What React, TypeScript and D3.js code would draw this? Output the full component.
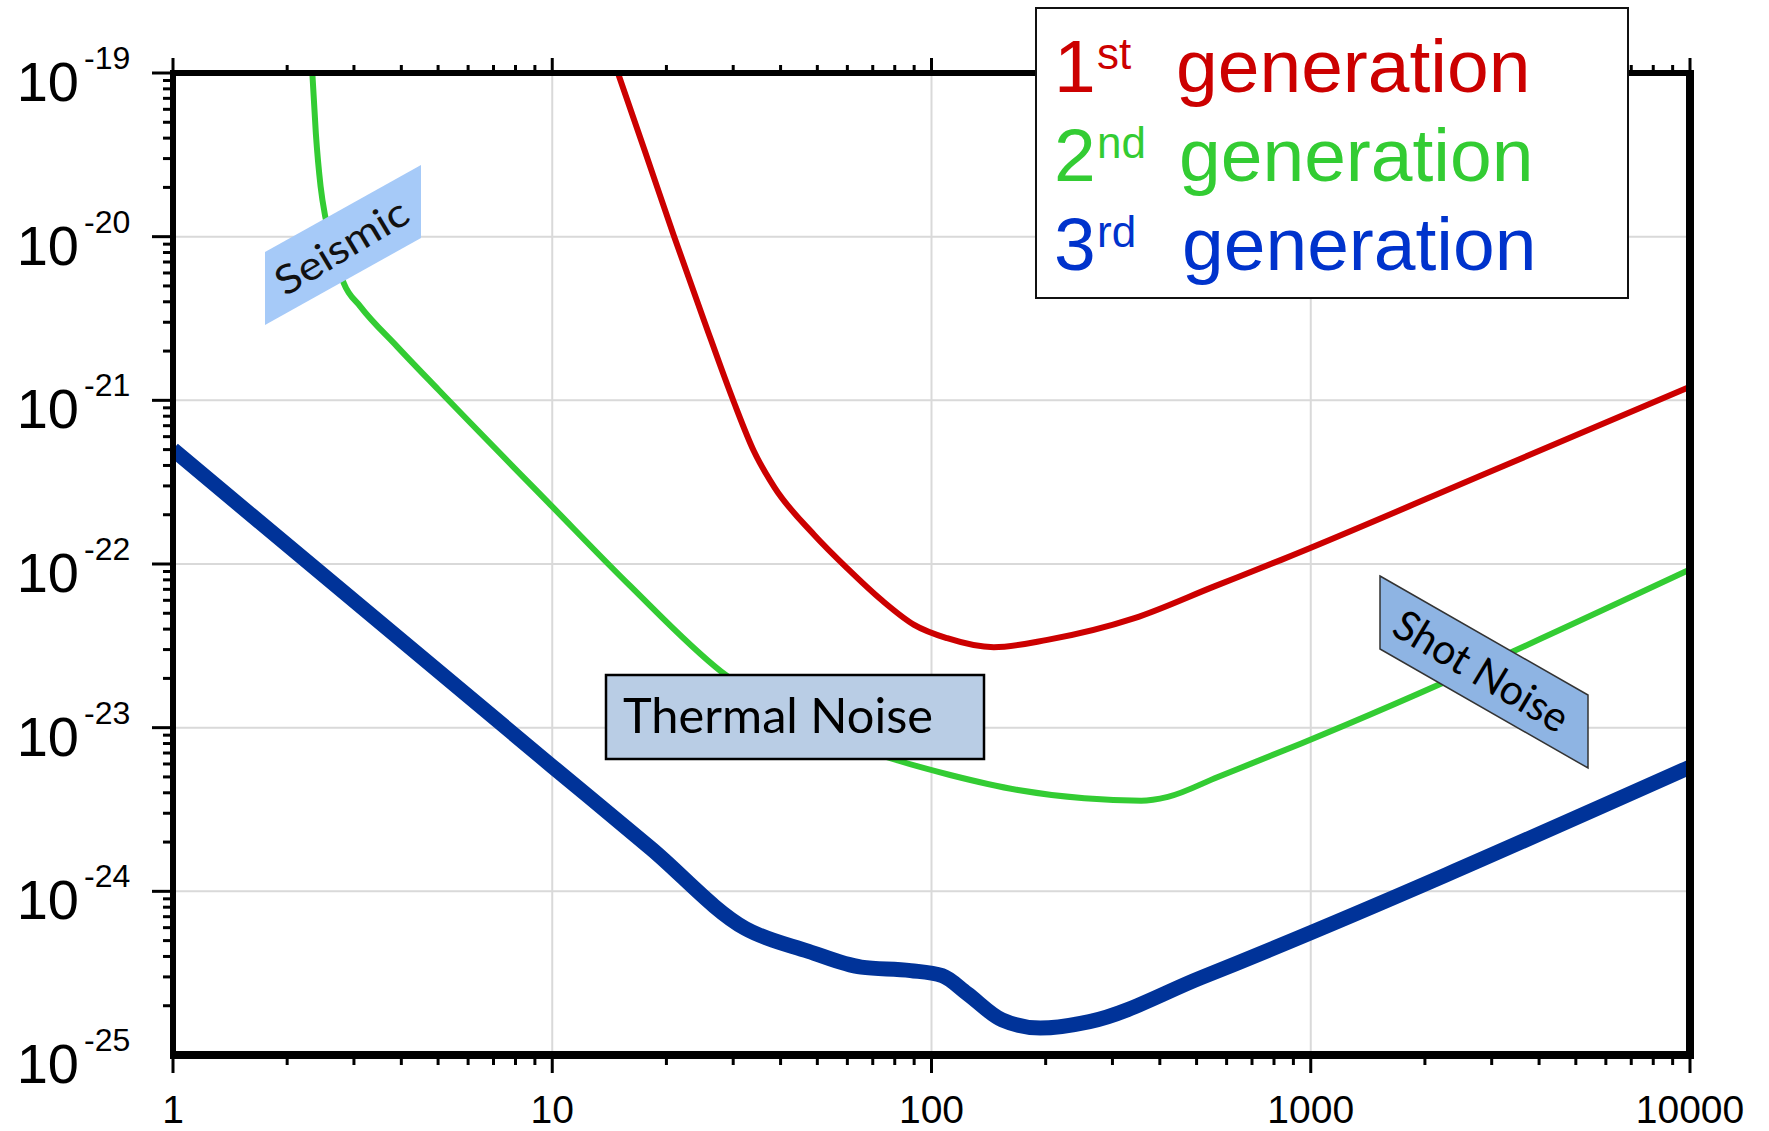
import React from 'react';
import * as d3 from 'd3';

const W = 1769;
const H = 1131;
const margin = { left: 173, right: 79, top: 73, bottom: 76 };

// axis labels
const xTickValues = [1, 10, 100, 1000, 10000];
const xTickLabels = ['1', '10', '100', '1000', '10000'];
const yTickValues = [1e-19, 1e-20, 1e-21, 1e-22, 1e-23, 1e-24, 1e-25];
const yTickExponents = ['-19', '-20', '-21', '-22', '-23', '-24', '-25'];

// 1st generation (red)
const gen1Freq = [14.9, 17.5, 20.9, 25.1, 30.1, 34, 38.5, 49, 60, 74, 90, 110, 146, 202, 343, 557, 836, 3000, 10000];
const gen1Strain = [1e-19, 3.4e-20, 1.02e-20, 3.1e-21, 9.8e-22, 4.9e-22, 2.95e-22, 1.51e-22, 9.4e-23, 6.0e-23, 4.25e-23, 3.52e-23, 3.1e-23, 3.44e-23, 4.67e-23, 7.3e-23, 1.06e-22, 3.7e-22, 1.21e-21];

// 2nd generation (green)
const gen2Freq = [2.33, 2.38, 2.45, 2.52, 2.63, 2.82, 3.12, 3.9, 5.01, 9.91, 16.0, 27.9, 39.8, 56.2, 81.5, 112, 169, 253, 357, 420, 569, 944, 10000];
const gen2Strain = [1e-19, 4.3e-20, 2.03e-20, 1.33e-20, 8.9e-21, 5.2e-21, 3.74e-21, 2.13e-21, 1.16e-21, 2.29e-22, 7.4e-23, 2.2e-23, 1.26e-23, 8.5e-24, 6.3e-24, 5.14e-24, 4.16e-24, 3.7e-24, 3.58e-24, 3.78e-24, 5.0e-24, 8.0e-24, 9.25e-23];

// 3rd generation (blue)
const gen3Freq = [1, 10, 18.2, 32.3, 47.4, 65.3, 88.1, 106.7, 124, 153.5, 193.6, 261, 514, 10000];
const gen3Strain = [5.0e-22, 5.8e-24, 1.83e-24, 5.93e-25, 4.3e-25, 3.44e-25, 3.28e-25, 3.05e-25, 2.38e-25, 1.64e-25, 1.46e-25, 1.6e-25, 2.97e-25, 5.75e-24];

const legendLabels = [
  { num: '1', sup: 'st', color: '#CC0000' },
  { num: '2', sup: 'nd', color: '#33CC33' },
  { num: '3', sup: 'rd', color: '#0033CC' },
];

const ARIAL = '"Liberation Sans", Arial, sans-serif';
const CALIBRI = 'Lato, "Open Sans", sans-serif';

export default function App() {
  const x = d3.scaleLog().domain([1, 10000]).range([margin.left, W - margin.right]);
  const y = d3.scaleLog().domain([1e-25, 1e-19]).range([H - margin.bottom, margin.top]);

  const line = d3
    .line<[number, number]>()
    .x((d) => x(d[0]))
    .y((d) => y(d[1]))
    .curve(d3.curveMonotoneX);

  const zip = (a: number[], b: number[]) => a.map((v, i) => [v, b[i]] as [number, number]);

  const isMajor = (v: number) => Math.abs(Math.log10(v) - Math.round(Math.log10(v))) < 1e-6;

  const x0 = x(1);
  const x1 = x(10000);
  const y0 = y(1e-19);
  const y1 = y(1e-25);

  const xTicks = x.ticks();
  const yTicks = y.ticks();

  return (
    <svg width={W} height={H} style={{ position: 'absolute', left: 0, top: 0, background: '#fff' }}>
      <defs>
        <clipPath id="plot">
          <rect x={x0} y={y0} width={x1 - x0} height={y1 - y0} />
        </clipPath>
      </defs>

      {/* grid */}
      <g stroke="#D9D9D9" strokeWidth={2}>
        {xTickValues.slice(1, -1).map((v) => (
          <line key={'gx' + v} x1={x(v)} x2={x(v)} y1={y0} y2={y1} />
        ))}
        {yTickValues.slice(1, -1).map((v) => (
          <line key={'gy' + v} x1={x0} x2={x1} y1={y(v)} y2={y(v)} />
        ))}
      </g>

      {/* curves */}
      <g clipPath="url(#plot)" fill="none" strokeLinejoin="round">
        <path d={line(zip(gen3Freq, gen3Strain)) || ''} stroke="#003399" strokeWidth={15} />
        <path d={line(zip(gen2Freq, gen2Strain)) || ''} stroke="#33CC33" strokeWidth={6} />
        <path d={line(zip(gen1Freq, gen1Strain)) || ''} stroke="#CC0000" strokeWidth={6} />
      </g>

      {/* frame */}
      <g stroke="#000" fill="none">
        <line x1={x0} x2={x1 + 4} y1={y0} y2={y0} strokeWidth={6} />
        <line x1={x0} x2={x0} y1={y0 - 3} y2={y1} strokeWidth={6} />
        <line x1={x0 - 3} x2={x1 + 4} y1={y1} y2={y1} strokeWidth={8} />
        <line x1={x1} x2={x1} y1={y0 - 3} y2={y1 + 4} strokeWidth={8} />
      </g>

      {/* ticks */}
      <g stroke="#000" strokeWidth={3}>
        {xTicks.map((v, i) => {
          const m = isMajor(v);
          return (
            <g key={'tx' + i}>
              <line x1={x(v)} x2={x(v)} y1={y1 + 4} y2={y1 + (m ? 18 : 10)} />
              <line x1={x(v)} x2={x(v)} y1={y0 - 3} y2={y0 - (m ? 15 : 8)} />
            </g>
          );
        })}
        {yTicks.map((v, i) => {
          const m = isMajor(v);
          return <line key={'ty' + i} x1={x0 - 3} x2={x0 - (m ? 21 : 10)} y1={y(v)} y2={y(v)} />;
        })}
      </g>

      {/* tick labels */}
      <g fontFamily={ARIAL} fill="#000">
        {xTickValues.map((v, i) => (
          <text key={'lx' + v} x={x(v)} y={1123} fontSize={39} textAnchor="middle">
            {xTickLabels[i]}
          </text>
        ))}
        {yTickValues.map((v, i) => (
          <g key={'ly' + i}>
            <text x={79} y={y(v) + 28} fontSize={56} textAnchor="end">
              10
            </text>
            <text x={84} y={y(v) - 4} fontSize={32}>
              {yTickExponents[i]}
            </text>
          </g>
        ))}
      </g>

      {/* Seismic label */}
      <polygon points="265,252 421,165 421,238 265,325" fill="#A6CAF8" />
      <text
        x={341}
        y={246}
        fontFamily={CALIBRI}
        fontSize={40}
        fill="#111"
        textAnchor="middle"
        dominantBaseline="central"
        textLength={148}
        lengthAdjust="spacingAndGlyphs"
        transform="rotate(-31 341 246)"
      >
        Seismic
      </text>

      {/* Shot noise label */}
      <polygon points="1380,576 1588,695 1588,768 1380,649" fill="#8EB4E3" stroke="#333" strokeWidth={1.5} />
      <text
        x={1482}
        y={670}
        fontFamily={CALIBRI}
        fontSize={42}
        fill="#000"
        textAnchor="middle"
        dominantBaseline="central"
        textLength={196}
        lengthAdjust="spacingAndGlyphs"
        transform="rotate(31 1482 670)"
      >
        Shot Noise
      </text>

      {/* Thermal noise label */}
      <rect x={606} y={675} width={378} height={84} fill="#B9CDE5" stroke="#000" strokeWidth={2.5} />
      <text x={623} y={733} fontFamily={CALIBRI} fontSize={48} fill="#000" textLength={310} lengthAdjust="spacingAndGlyphs">
        Thermal Noise
      </text>

      {/* legend */}
      <rect x={1036} y={8} width={592} height={290} fill="#fff" stroke="#111" strokeWidth={2} />
      <g fontFamily={ARIAL}>
        {legendLabels.map((d, i) => {
          const base = 92 + i * 89;
          return (
            <g key={d.num} fill={d.color}>
              <text x={1054} y={base} fontSize={75}>
                {d.num}
              </text>
              <text x={1097} y={base - 23} fontSize={44}>
                {d.sup}
              </text>
              <text x={1176 + i * 3} y={base} fontSize={75}>
                generation
              </text>
            </g>
          );
        })}
      </g>
    </svg>
  );
}
